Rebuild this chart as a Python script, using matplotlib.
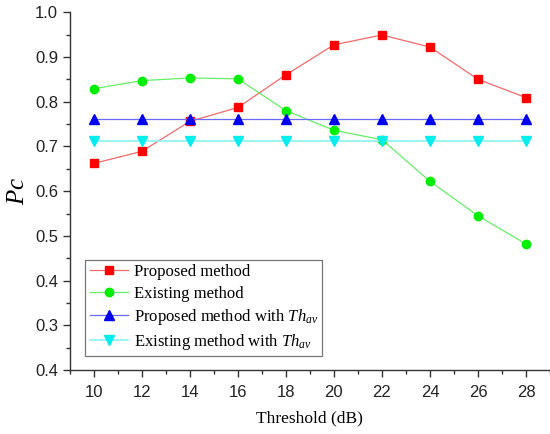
import matplotlib
matplotlib.use('Agg')
import matplotlib.pyplot as plt
from matplotlib.ticker import MultipleLocator

thresholds = [10, 12, 14, 16, 18, 20, 22, 24, 26, 28]
proposed = [0.662, 0.689, 0.756, 0.787, 0.860, 0.927, 0.949, 0.922, 0.850, 0.809]
existing = [0.829, 0.847, 0.853, 0.851, 0.780, 0.736, 0.715, 0.622, 0.545, 0.482]
proposed_av = [0.761] * len(thresholds)
existing_av = [0.713] * len(thresholds)

yticks = [0.2, 0.3, 0.4, 0.5, 0.6, 0.7, 0.8, 0.9, 1.0]
ytick_labels = ['0.4', '0.3', '0.4', '0.5', '0.6', '0.7', '0.8', '0.9', '1.0']
xticks = thresholds

serif = 'Liberation Serif'
sans = 'Liberation Sans'
plt.rcParams['mathtext.fontset'] = 'custom'
plt.rcParams['mathtext.it'] = 'Liberation Serif:italic'
plt.rcParams['mathtext.rm'] = 'Liberation Serif'

fig = plt.figure(figsize=(5.5, 4.34), dpi=100)
ax = fig.add_axes([0.127, 0.147, 0.873, 0.825])

ax.plot(thresholds, proposed, color='#f06a6a', lw=0.9, marker='s', ms=6,
        mfc='red', mec='red', label='Proposed method')
ax.plot(thresholds, existing, color='#66ee66', lw=0.9, marker='o', ms=6,
        mfc='#00ee00', mec='#00ee00', label='Existing method')
ax.plot(thresholds, proposed_av, color='#6a6aff', lw=0.9, marker='^', ms=7,
        mfc='#0000ee', mec='#0000ee', label=r'Proposed method with $Th_{av}$')
ax.plot(thresholds, existing_av, color='#88f4f4', lw=1.2, marker='v', ms=7,
        mfc='#00eeee', mec='#00eeee', label=r'Existing method with $Th_{av}$')

ax.set_xlim(9, 29)
ax.set_ylim(0.2, 1.0)
ax.set_xticks(xticks)
ax.xaxis.set_minor_locator(MultipleLocator(1))
ax.set_yticks(yticks)
ax.set_yticklabels(ytick_labels)
ax.yaxis.set_minor_locator(MultipleLocator(0.05))

for s in ['top', 'right']:
    ax.spines[s].set_visible(False)
for s in ['left', 'bottom']:
    ax.spines[s].set_linewidth(1.0)
    ax.spines[s].set_color('#333333')

ax.tick_params(which='major', direction='out', length=5, width=1, colors='#333333',
               labelsize=12, labelcolor='#222222')
ax.tick_params(which='minor', direction='out', length=3, width=1, colors='#333333')
for lab in ax.get_xticklabels() + ax.get_yticklabels():
    lab.set_family(sans)
ax.tick_params(axis='x', pad=6)

ax.set_xlabel('Threshold (dB)', family=serif, fontsize=12.5, labelpad=7)
ax.set_ylabel(r'$Pc$', fontsize=18, labelpad=4)

leg = ax.legend(loc='lower left', bbox_to_anchor=(0.015, 0.015),
                prop={'family': serif, 'size': 12}, frameon=True, fancybox=False,
                edgecolor='#555555', handlelength=2.3, borderpad=0.25,
                labelspacing=0.32, handletextpad=0.35)
leg.get_frame().set_linewidth(0.9)

fig.savefig('out.png', dpi=100)
